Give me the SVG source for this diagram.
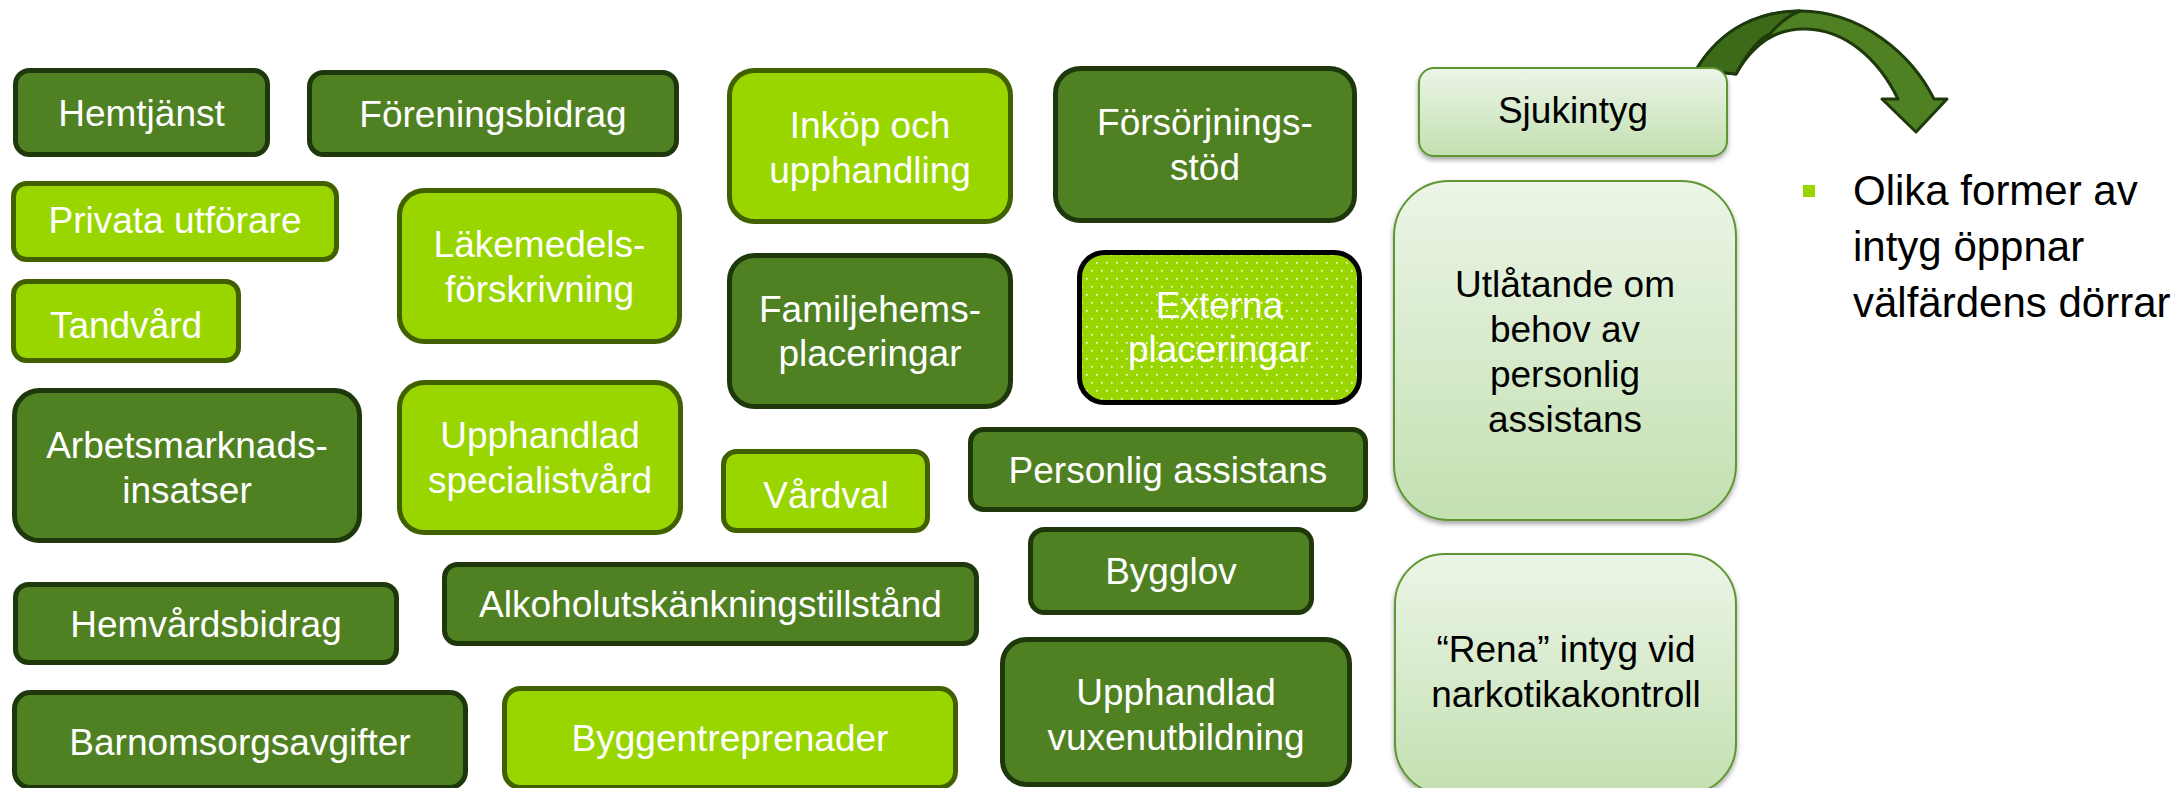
<svg xmlns="http://www.w3.org/2000/svg" width="2179" height="788" viewBox="0 0 2179 788">
<defs>
<style>
.dk{fill:#4f8123;stroke:#1f380b;stroke-width:5}
.lt{fill:#99d600;stroke:#416100;stroke-width:5}
.ex{fill:url(#dots);stroke:#000;stroke-width:5}
.gr{fill:url(#pale);stroke:#5f9632;stroke-width:2;filter:url(#sh)}
text{font-family:"Liberation Sans",Arial,sans-serif;font-size:37px;text-anchor:middle}
.w{fill:#fff}
.b{fill:#000}
.bul{font-size:42px;text-anchor:start;fill:#000}
</style>
<linearGradient id="pale" x1="0" y1="0" x2="0" y2="1">
<stop offset="0" stop-color="#ecf5e7"/>
<stop offset="1" stop-color="#c3e0b1"/>
</linearGradient>
<pattern id="dots" width="10" height="16" patternUnits="userSpaceOnUse" x="1079" y="252">
<rect width="10" height="16" fill="#99d600"/>
<rect x="2" y="2" width="1.6" height="1.6" fill="#fff"/>
<rect x="7" y="10" width="1.6" height="1.6" fill="#fff"/>
</pattern>
<filter id="sh" x="-10%" y="-10%" width="120%" height="120%">
<feDropShadow dx="0" dy="3" stdDeviation="2.5" flood-color="#000" flood-opacity="0.35"/>
</filter>
</defs>

<g id="connectors">
<path d="M1696,70 C1722,26 1762,11 1800,11 C1862,11 1912,55 1934,99 L1947,99 L1916,132 L1882,99 L1898,99 C1878,58 1845,30 1806,29 C1775,28 1752,46 1736,74 Z" fill="#4f8022" stroke="#1e3a0a" stroke-width="3" stroke-linejoin="round"/>
<path d="M1696,70 C1722,26 1762,11 1800,11 C1792,14 1780,22 1770,34 C1760,38 1748,52 1736,74 Z" fill="#3d6a19" stroke="#1e3a0a" stroke-width="3" stroke-linejoin="round"/>
</g>

<g id="hemtjanst"><rect class="dk" x="15.5" y="70.5" width="252" height="84" rx="14"/><text class="w" x="141.5" y="126">Hemtjänst</text></g>
<g id="foreningsbidrag"><rect class="dk" x="309.5" y="72.5" width="367" height="82" rx="14"/><text class="w" x="493" y="127">Föreningsbidrag</text></g>
<g id="inkop"><rect class="lt" x="729.5" y="70.5" width="281" height="151" rx="25"/><text class="w" x="870" y="138">Inköp och</text><text class="w" x="870" y="183">upphandling</text></g>
<g id="forsorjningsstod"><rect class="dk" x="1055.5" y="68.5" width="299" height="152" rx="25"/><text class="w" x="1205" y="135">Försörjnings-</text><text class="w" x="1205" y="180">stöd</text></g>
<g id="sjukintyg"><rect class="gr" x="1419" y="68" width="308" height="88" rx="15"/><text class="b" x="1573" y="123">Sjukintyg</text></g>
<g id="privata"><rect class="lt" x="13.5" y="183.5" width="323" height="76" rx="13"/><text class="w" x="175" y="233">Privata utförare</text></g>
<g id="lakemedel"><rect class="lt" x="399.5" y="190.5" width="280" height="151" rx="25"/><text class="w" x="539.5" y="257">Läkemedels-</text><text class="w" x="539.5" y="302">förskrivning</text></g>
<g id="tandvard"><rect class="lt" x="13.5" y="281.5" width="225" height="79" rx="13"/><text class="w" x="126" y="338">Tandvård</text></g>
<g id="familjehem"><rect class="dk" x="729.5" y="255.5" width="281" height="151" rx="25"/><text class="w" x="870" y="322">Familjehems-</text><text class="w" x="870" y="366">placeringar</text></g>
<g id="externa"><rect class="ex" x="1079.5" y="252.5" width="280" height="150" rx="25"/><text class="w" x="1219.5" y="318">Externa</text><text class="w" x="1219.5" y="362">placeringar</text></g>
<g id="utlatande"><rect class="gr" x="1394" y="181" width="342" height="339" rx="55"/><text class="b" x="1565" y="297">Utlåtande om</text><text class="b" x="1565" y="342">behov av</text><text class="b" x="1565" y="387">personlig</text><text class="b" x="1565" y="432">assistans</text></g>
<g id="arbetsmarknad"><rect class="dk" x="14.5" y="390.5" width="345" height="150" rx="25"/><text class="w" x="187" y="458">Arbetsmarknads-</text><text class="w" x="187" y="503">insatser</text></g>
<g id="specialistvard"><rect class="lt" x="399.5" y="382.5" width="281" height="150" rx="25"/><text class="w" x="540" y="448">Upphandlad</text><text class="w" x="540" y="493">specialistvård</text></g>
<g id="vardval"><rect class="lt" x="723.5" y="451.5" width="204" height="79" rx="13"/><text class="w" x="826" y="508">Vårdval</text></g>
<g id="personlig"><rect class="dk" x="970.5" y="429.5" width="395" height="80" rx="13"/><text class="w" x="1168" y="483">Personlig assistans</text></g>
<g id="bygglov"><rect class="dk" x="1030.5" y="529.5" width="281" height="83" rx="14"/><text class="w" x="1171" y="584">Bygglov</text></g>
<g id="alkohol"><rect class="dk" x="444.5" y="564.5" width="532" height="79" rx="13"/><text class="w" x="710.5" y="617">Alkoholutskänkningstillstånd</text></g>
<g id="hemvardsbidrag"><rect class="dk" x="15.5" y="584.5" width="381" height="78" rx="13"/><text class="w" x="206" y="637">Hemvårdsbidrag</text></g>
<g id="rena"><rect class="gr" x="1395" y="554" width="341" height="240" rx="50"/><text class="b" x="1566" y="662">“Rena” intyg vid</text><text class="b" x="1566" y="707">narkotikakontroll</text></g>
<g id="vuxenutbildning"><rect class="dk" x="1002.5" y="639.5" width="347" height="145" rx="24"/><text class="w" x="1176" y="705">Upphandlad</text><text class="w" x="1176" y="750">vuxenutbildning</text></g>
<g id="barnomsorg"><rect class="dk" x="14.5" y="692.5" width="451" height="95" rx="16"/><text class="w" x="240" y="755">Barnomsorgsavgifter</text></g>
<g id="byggentreprenader"><rect class="lt" x="504.5" y="688.5" width="451" height="99" rx="16"/><text class="w" x="730" y="751">Byggentreprenader</text></g>

<g id="bullet">
<rect x="1803" y="185" width="12" height="12" fill="#99d600"/>
<text class="bul" x="1853" y="205">Olika former av</text>
<text class="bul" x="1853" y="261">intyg öppnar</text>
<text class="bul" x="1853" y="317">välfärdens dörrar</text>
</g>
</svg>
